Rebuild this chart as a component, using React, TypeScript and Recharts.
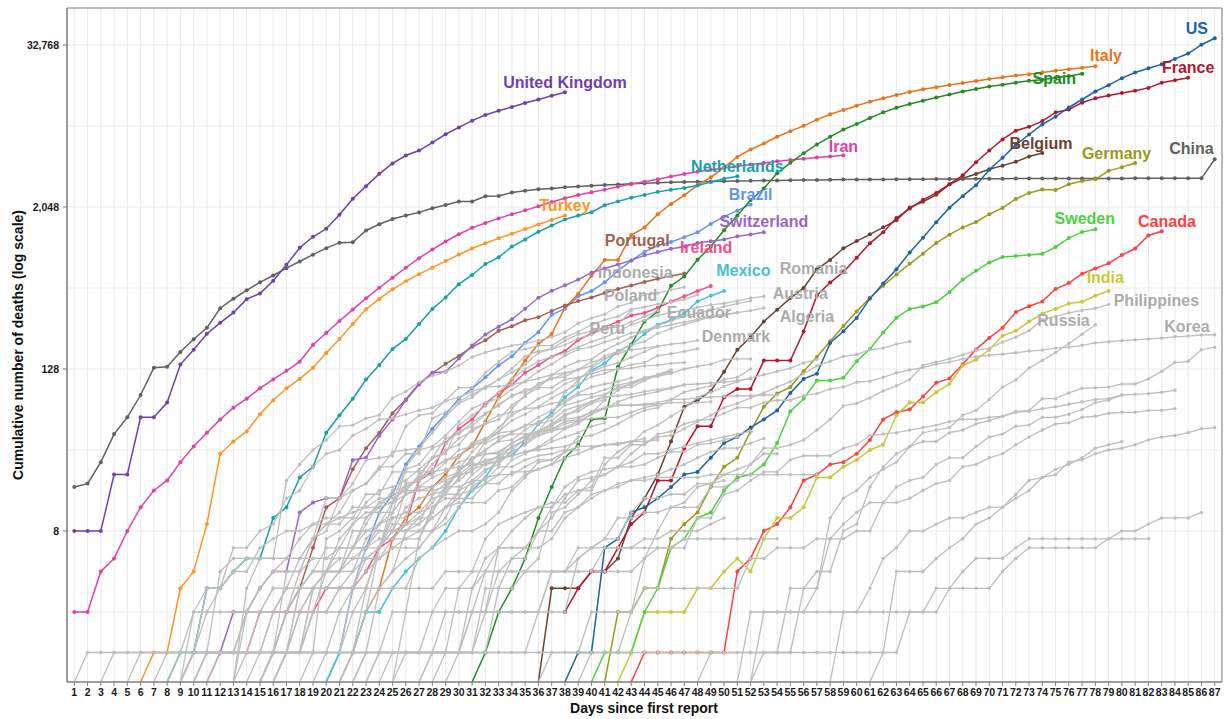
import React from 'react';
import { LineChart, Line, XAxis, YAxis, CartesianGrid, ReferenceArea, ReferenceDot } from 'recharts';

// log axis: zeros are squished onto the bottom edge like ggplot's -Inf
const FLOOR = 0.6034;
const TOP = 61740;
const DAYS = Array.from({ length: 87 }, (_, i) => i + 1);
const Y_TICKS = [8, 128, 2048, 32768];
const Y_GRID = [2, 8, 32, 128, 512, 2048, 8192, 32768];
const GRAY = '#bebebe';
const FONT = '"Liberation Sans", Arial, Helvetica, sans-serif';

// ---- highlighted countries (cumulative deaths, first entry = start day) ----
const china = [17,18,26,42,56,82,131,133,171,213,259,362,426,492,564,634,719,806,906,1013,1113,1118,1371,1523,1666,1770,1868,2007,2122,2247,2251,2458,2469,2629,2708,2770,2814,2872,2914,2947,2983,3015,3044,3072,3100,3123,3139,3161,3172,3180,3193,3203,3217,3230,3241,3249,3253,3259,3274,3274,3281,3285,3291,3296,3299,3304,3308,3309,3316,3322,3326,3330,3333,3335,3335,3337,3339,3340,3343,3343,3345,3345,3346,3346,3346,3346,4636];
const us = [0,1,1,6,7,11,12,14,17,21,22,28,36,40,47,54,63,85,108,118,200,244,307,427,552,706,942,1209,1581,2026,2467,2978,3873,4757,5926,7087,8407,9619,11248,12895,14789,16478,18586,20463,22020,23529,25832,28326,32916,36773];
const italy = [0,1,2,3,7,10,12,17,21,29,34,52,79,107,148,197,233,366,463,631,827,827,1266,1441,1809,2158,2503,2978,3405,4032,4825,5476,6077,6820,7503,8215,9134,10023,10779,11591,12428,13155,13915,14681,15362,15887,16523,17127,17669,18279,18849,19468,19899,20465,21067,21645,22170,22745];
const spain = [0,1,2,3,5,10,17,28,35,54,55,133,195,289,342,533,623,830,1043,1375,1772,2311,2808,3647,4365,5138,5982,6803,7716,8464,9387,10348,11198,11947,12641,13341,14045,14792,15447,16081,16606,17209,17756,18056,18708,19315,20002];
const france = [2,3,4,4,6,9,11,19,19,33,48,48,79,91,91,148,148,148,243,450,562,674,860,1100,1331,1696,1995,2314,2606,3024,3523,4403,5387,6507,7560,8078,8911,10328,10869,12210,13197,13832,14393,14967,15729,17167,17920,18681];
const uk = [8,8,8,21,21,56,56,72,138,178,234,282,336,423,466,580,761,1021,1231,1411,1793,2357,2926,3611,4320,4943,5385,6171,7111,7993,8974,9892,10629,11347,12129,12894,13759,14607];
const iran = [2,2,4,5,8,12,16,19,26,34,43,54,66,77,92,107,124,145,194,237,291,354,429,514,611,724,853,988,1135,1284,1433,1556,1685,1812,1934,2077,2234,2378,2517,2640,2757,2898,3036,3160,3294,3452,3603,3739,3872,3993,4110,4232,4357,4474,4585,4683,4777,4869,4958];
const netherlands = [0,1,1,3,3,4,5,5,10,12,20,24,43,58,77,107,137,180,214,277,357,435,547,640,772,865,1040,1175,1341,1490,1656,1771,1874,2108,2255,2403,2520,2653,2747,2833,2955,3145,3327,3471];
const turkey = [0,1,1,3,4,9,30,37,44,59,75,92,108,131,168,214,277,356,425,501,574,649,725,812,908,1006,1101,1198,1296,1403,1518,1643,1769];
const brazil = [0,1,3,6,11,15,25,34,46,59,77,92,111,136,159,201,240,324,359,445,486,564,686,819,950,1057,1124,1223,1328,1532,1736,1924,2141];
const switzerland = [0,1,1,1,2,2,3,4,4,11,13,14,14,27,28,41,54,75,98,120,122,153,191,231,264,300,359,433,488,536,591,666,715,765,821,895,948,1002,1036,1106,1138,1174,1239,1281,1327];
const portugal = [0,1,2,3,6,12,14,23,33,43,60,76,100,119,140,160,187,209,246,266,295,311,345,380,409,435,470,504,535,567,599,629,657];
const ireland = [0,1,1,1,2,2,2,2,2,3,3,3,4,6,7,9,19,22,36,46,54,71,85,98,120,137,158,174,210,235,263,287,320,334,365,406,444,486,530];
const mexico = [0,1,1,2,2,3,4,5,6,8,12,16,20,28,29,37,50,60,79,94,125,141,174,194,233,273,296,332,406,449,486];
const belgium = [0,3,3,3,4,4,5,10,14,21,37,67,75,88,122,178,220,289,353,431,513,705,828,1011,1143,1283,1447,1632,2035,2240,2523,3019,3346,3600,3903,4157,4440,4857,5163];
const germany = [0,2,2,3,3,7,9,11,17,24,28,44,67,84,94,123,157,206,267,342,433,533,645,775,920,1107,1275,1444,1584,1810,2016,2349,2607,2767,2736,3022,3194,3294,3804,4052,4352];
const sweden = [0,1,1,1,2,3,6,7,10,11,16,20,21,25,36,62,77,105,105,110,146,180,239,308,358,373,401,477,591,687,793,870,887,899,919,1033,1203,1333,1400];
const canada = [0,1,1,1,1,1,1,1,4,5,8,9,12,19,21,25,26,30,38,54,61,64,80,101,109,139,179,218,259,339,375,407,503,557,654,714,781,899,1006,1257,1354];
const india = [0,1,2,2,2,2,3,3,4,5,4,7,10,10,12,20,20,24,27,32,35,58,72,72,86,99,136,150,178,226,246,288,331,358,393,405,448,486];

// ---- other countries (grey) ----
const afghanistan = [0,1,1,1,2,2,4,4,4,4,4,4,6,6,7,7,11,14,14,15,15,18,18,21,23,25,30,30];
const algeria = [0,1,2,3,4,4,4,7,9,11,15,17,17,19,21,25,26,29,31,35,44,58,86,105,130,152,173,193,205,235,256,275,293,313,326,336,348,364];
const argentina = [0,1,1,1,1,1,2,2,2,2,2,2,3,3,4,4,4,6,8,9,13,18,19,23,27,28,36,39,43,44,48,56,63,72,82,83,90,97,102,111,115,123];
const australia = [0,1,1,1,2,2,2,2,3,3,3,3,3,3,3,3,5,5,6,6,6,7,7,7,8,8,13,13,14,16,18,19,24,25,28,30,35,40,45,50,51,56,57,60,61,61,63,63,65];
const austria = [0,1,1,1,1,1,3,3,6,8,16,21,28,30,49,58,68,86,108,128,146,158,168,186,204,220,243,273,295,319,337,350,368,384,393,410,431,443];
const bahrain = [0,1,1,1,1,1,1,1,1,1,3,4,4,4,4,4,4,4,4,4,4,4,4,5,6,6,7,7,7,7,7,7,7,7];
const bangladesh = [0,1,1,1,2,3,4,5,5,5,5,5,5,5,5,6,6,6,8,9,12,17,20,21,27,30,34,39,46,50,60,75];
const bolivia = [0,1,1,3,3,4,6,6,9,10,11,11,14,15,20,24,27,28,29,31,32,33,34,37];
const bosnia = [0,1,1,2,2,3,3,4,5,6,7,8,10,12,13,13,13,16,17,21,23,25,28,30,33,35,36,37,39];
const burkina = [0,1,1,1,1,2,3,4,4,4,7,9,9,12,12,14,14,16,16,16,17,17,19,19,24,24,27,29,30,32,32];
const chile = [0,1,1,2,3,3,4,5,6,8,12,16,18,22,27,34,37,43,48,57,65,73,82,92,94,105,116,126];
const colombia = [0,1,2,3,4,4,6,6,10,12,16,17,19,25,32,35,46,50,54,69,80,100,109,112,127,144,153,166,179];
const croatia = [0,1,1,1,1,1,1,3,3,5,6,6,6,6,7,10,12,15,16,18,19,20,21,23,25,28,31,33,33,36,39];
const cuba = [0,1,1,1,1,1,1,1,2,3,3,3,4,6,6,6,6,8,8,9,11,12,15,15,16,18,21,21,24,27,27,31];
const czechia = [0,1,3,6,9,9,9,11,16,23,31,39,44,53,59,67,78,88,99,112,119,129,138,143,161,166,173,181];
const denmark = [0,1,2,3,4,4,6,9,13,13,24,32,34,41,52,65,72,77,90,104,123,139,161,179,187,203,218,237,247,260,273,285,299,309,321,336];
const dominican = [0,1,2,2,2,3,3,3,6,10,10,20,28,39,42,51,60,68,82,86,98,108,118,126,135,160,173,177,183,189,196,200,209];
const ecuador = [0,2,2,2,3,5,7,14,14,18,27,28,29,48,58,60,75,93,93,120,145,172,180,191,191,220,242,272,297,315,355,369,388,403,421,456];
const egypt = [0,1,1,1,1,1,2,2,2,4,6,6,6,8,10,14,19,20,21,24,30,36,40,41,46,52,58,66,71,78,85,94,103,118,135,146,159,164,178,183,196,205];
const estonia = [0,1,1,1,1,3,3,3,4,5,11,12,15,19,21,24,24,25,28,31,31,35,36,38,40];
const finland = [0,1,1,1,3,3,7,9,11,13,13,17,19,20,25,28,28,34,40,42,48,49,56,56,59,64,72,75,82];
const greece = [0,1,1,3,4,4,5,5,6,6,13,15,17,20,22,26,28,32,38,43,49,50,53,63,68,73,79,81,83,87,90,93,98,99,101,102,105,108];
const honduras = [0,1,1,1,1,7,8,10,15,15,22,22,22,22,23,24,25,25,26,31,35,41,46,46];
const hungary = [0,1,1,1,1,1,4,4,7,9,10,10,10,13,15,16,20,21,26,32,34,38,47,58,66,77,85,99,109,122,134,142,156,172,189];
const iceland = [0,1,1,1,1,1,1,1,1,2,2,2,2,2,2,2,2,2,2,2,2,4,4,4,4,6,6,6,7,7,8,8,8,9,10];
const indonesia = [0,1,1,4,5,5,5,5,19,25,32,38,48,49,55,58,78,87,102,114,122,136,157,170,181,191,198,209,221,240,280,306,327,373,399,459,469,496,520];
const iraq = [0,2,2,3,4,4,6,7,8,8,9,10,10,11,12,12,13,17,20,23,27,29,36,36,40,42,42,44,50,54,56,61,65,69,69,70,72,76,76,78,79,80,81,81,82,82];
const israel = [0,1,1,1,1,3,5,5,8,12,15,16,16,25,31,36,44,49,57,65,79,86,95,103,110,116,123,130,142,151];
const japan = [0,1,1,1,1,1,1,1,1,1,1,1,1,1,2,4,4,5,6,6,6,6,6,6,6,6,10,10,15,16,19,22,22,27,29,29,29,33,35,41,42,43,45,47,49,52,54,54,56,57,62,63,77,77,85,92,93,94,99,99,108,123,143,146,178,186];
const korea = [0,1,2,2,6,8,10,12,13,13,16,17,28,28,35,35,42,44,50,53,54,60,66,66,72,75,75,81,84,91,94,102,104,111,120,126,131,139,144,152,158,162,165,169,174,177,183,186,192,200,204,208,211,214,217,222,225,229,230];
const lebanon = [0,1,1,2,3,3,3,3,3,3,3,4,4,4,4,4,5,6,8,8,11,12,14,16,17,19,19,20,20,20,20,21,21,21,21,21,21,21,21,21];
const luxembourg = [0,1,1,1,1,1,2,4,4,8,8,8,8,8,9,15,18,21,22,30,31,36,41,44,46,52,54,62,66,69,69,69,70,72,72,72,73];
const malaysia = [0,2,2,2,2,3,10,14,16,20,23,26,34,37,37,43,45,50,53,57,61,62,65,67,70,73,76,77,82,83,84,86,89];
const moldova = [0,1,1,1,1,1,1,1,1,2,2,2,2,2,6,8,12,14,15,16,19,23,25,27,29,31,33,37,40,43,48,51];
const morocco = [0,1,1,1,1,1,1,2,2,2,3,3,4,5,5,6,11,23,25,33,36,44,48,59,70,80,90,93,93,107,111,118,126,127,130,135,137,141,143];
const macedonia = [0,1,1,2,3,3,4,7,9,10,11,12,12,17,20,22,23,24,26,30,30,32,34,36,38,40,42,44];
const nigeria = [0,1,1,1,1,1,1,1,2,2,2,2,2,2,2,5,6,7,10,10,11,11,12,13,17,18,19];
const norway = [0,1,1,3,3,3,3,3,6,7,7,7,7,12,14,14,19,23,25,32,39,44,50,59,62,71,76,89,101,108,113,119,128,134,139,150,152,152];
const pakistan = [0,1,2,3,3,3,5,6,7,8,8,9,11,16,20,26,27,31,40,41,45,50,57,63,66,76,86,91,96,107,111,128];
const panama = [0,1,1,1,1,1,1,1,1,1,3,3,6,6,8,9,14,16,24,30,32,41,46,54,55,59,63,66,74,79,87,94,95,98,103,109,116,120,126];
const peru = [0,3,5,5,5,7,9,9,11,16,18,24,24,30,30,55,61,73,83,92,107,121,138,169,181,193,216,230,254,274,348];
const philippines = [0,1,1,1,1,1,1,1,1,1,1,1,1,1,1,1,1,1,1,1,1,1,1,1,1,1,1,1,1,1,1,1,1,1,1,1,1,1,1,1,2,5,8,12,12,12,17,17,19,25,33,33,35,38,45,54,68,71,78,88,96,107,136,144,152,163,177,182,203,221,247,297,315,335,349,362,387];
const poland = [0,1,2,3,3,4,5,5,5,5,5,7,8,14,16,18,23,31,32,33,43,57,71,79,94,107,129,159,174,181,208,232,245,257,263,286,314,347];
const romania = [0,2,7,11,17,23,26,37,43,65,82,92,115,133,146,151,176,197,220,246,270,291,316,333,351,372,392,411];
const russia = [0,1,1,1,1,1,1,3,3,4,4,8,9,17,24,30,34,43,45,47,58,63,76,94,106,130,148,170,198,232,273];
const saudi = [0,1,3,4,8,8,8,10,16,21,25,29,34,38,41,44,47,52,59,65,73,79,83,87,92,97];
const serbia = [0,1,2,3,3,3,4,7,9,13,16,17,19,23,28,31,39,44,51,58,61,65,66,71,74,85,94,99,103,110];
const singapore = [0,2,2,2,2,2,2,2,2,3,3,3,3,4,5,6,6,6,6,6,6,7,8,8,9,10,10,10,11];
const slovenia = [0,1,1,1,1,1,1,2,4,5,5,6,9,11,11,11,15,16,17,20,22,28,30,30,36,40,43,45,50,53,55,56,56,61,66,69];
const srilanka = [0,1,1,2,2,3,3,4,5,5,5,6,7,7,7,7,7,7,7,7,7,7];
const thailand = [0,1,1,1,1,1,1,1,1,1,1,1,1,1,1,1,1,1,1,1,1,1,1,1,4,4,4,5,6,7,9,10,12,14,16,20,21,26,27,30,32,33,35,38,40,41,43,46,47];
const tunisia = [0,1,1,1,3,3,3,4,5,6,8,8,10,10,12,14,14,18,18,22,22,23,25,31,34,34,35,35,37,37,38];
const uae = [0,2,2,2,2,2,2,2,2,2,3,5,6,8,8,9,10,10,11,12,12,15,19,20,23,25,28,33,35,37];
const ukraine = [0,1,1,1,2,2,3,3,3,3,3,3,3,5,5,7,9,10,13,17,22,27,32,37,38,45,52,57,69,73,79,83,94,98,108,116,125];

const COLORS: Record<string, string> = {
  US: '#1b63a6', Italy: '#e8731a', Spain: '#228b22', France: '#b2182b',
  'United Kingdom': '#6e3faf', China: '#606060', Iran: '#e040a8',
  Netherlands: '#17a0a8', Turkey: '#ff9526', Brazil: '#6495ed',
  Switzerland: '#9966cc', Portugal: '#a65f4f', Ireland: '#f0508c',
  Mexico: '#46bfdc', Belgium: '#6b4232', Germany: '#999a20',
  Sweden: '#50d040', Canada: '#ff4040', India: '#c8c83c',
};

const SERIES = [
  { name: 'China', start: 1, deaths: china },
  { name: 'US', start: 38, deaths: us },
  { name: 'Italy', start: 21, deaths: italy },
  { name: 'Spain', start: 31, deaths: spain },
  { name: 'France', start: 38, deaths: france },
  { name: 'United Kingdom', start: 1, deaths: uk },
  { name: 'Iran', start: 1, deaths: iran },
  { name: 'Netherlands', start: 8, deaths: netherlands },
  { name: 'Turkey', start: 6, deaths: turkey },
  { name: 'Brazil', start: 20, deaths: brazil },
  { name: 'Switzerland', start: 9, deaths: switzerland },
  { name: 'Portugal', start: 15, deaths: portugal },
  { name: 'Ireland', start: 11, deaths: ireland },
  { name: 'Mexico', start: 20, deaths: mexico },
  { name: 'Belgium', start: 36, deaths: belgium },
  { name: 'Germany', start: 41, deaths: germany },
  { name: 'Sweden', start: 40, deaths: sweden },
  { name: 'Canada', start: 43, deaths: canada },
  { name: 'India', start: 42, deaths: india },
  { name: 'Afghanistan', start: 27, deaths: afghanistan },
  { name: 'Algeria', start: 16, deaths: algeria },
  { name: 'Argentina', start: 5, deaths: argentina },
  { name: 'Australia', start: 36, deaths: australia },
  { name: 'Austria', start: 16, deaths: austria },
  { name: 'Bahrain', start: 21, deaths: bahrain },
  { name: 'Bangladesh', start: 10, deaths: bangladesh },
  { name: 'Bolivia', start: 16, deaths: bolivia },
  { name: 'Bosnia and Herzegovina', start: 16, deaths: bosnia },
  { name: 'Burkina Faso', start: 9, deaths: burkina },
  { name: 'Chile', start: 19, deaths: chile },
  { name: 'Colombia', start: 15, deaths: colombia },
  { name: 'Croatia', start: 23, deaths: croatia },
  { name: 'Cuba', start: 7, deaths: cuba },
  { name: 'Czechia', start: 21, deaths: czechia },
  { name: 'Denmark', start: 16, deaths: denmark },
  { name: 'Dominican Republic', start: 16, deaths: dominican },
  { name: 'Ecuador', start: 13, deaths: ecuador },
  { name: 'Egypt', start: 23, deaths: egypt },
  { name: 'Estonia', start: 27, deaths: estonia },
  { name: 'Finland', start: 52, deaths: finland },
  { name: 'Greece', start: 15, deaths: greece },
  { name: 'Honduras', start: 15, deaths: honduras },
  { name: 'Hungary', start: 11, deaths: hungary },
  { name: 'Iceland', start: 16, deaths: iceland },
  { name: 'Indonesia', start: 9, deaths: indonesia },
  { name: 'Iraq', start: 9, deaths: iraq },
  { name: 'Israel', start: 28, deaths: israel },
  { name: 'Japan', start: 22, deaths: japan },
  { name: 'Korea, South', start: 29, deaths: korea },
  { name: 'Lebanon', start: 18, deaths: lebanon },
  { name: 'Luxembourg', start: 13, deaths: luxembourg },
  { name: 'Malaysia', start: 52, deaths: malaysia },
  { name: 'Moldova', start: 10, deaths: moldova },
  { name: 'Morocco', start: 9, deaths: morocco },
  { name: 'North Macedonia', start: 25, deaths: macedonia },
  { name: 'Nigeria', start: 24, deaths: nigeria },
  { name: 'Norway', start: 15, deaths: norway },
  { name: 'Pakistan', start: 21, deaths: pakistan },
  { name: 'Panama', start: 1, deaths: panama },
  { name: 'Peru', start: 13, deaths: peru },
  { name: 'Philippines', start: 3, deaths: philippines },
  { name: 'Poland', start: 8, deaths: poland },
  { name: 'Romania', start: 25, deaths: romania },
  { name: 'Russia', start: 48, deaths: russia },
  { name: 'Saudi Arabia', start: 22, deaths: saudi },
  { name: 'Serbia', start: 14, deaths: serbia },
  { name: 'Singapore', start: 58, deaths: singapore },
  { name: 'Slovenia', start: 10, deaths: slovenia },
  { name: 'Sri Lanka', start: 61, deaths: srilanka },
  { name: 'Thailand', start: 39, deaths: thailand },
  { name: 'Tunisia', start: 15, deaths: tunisia },
  { name: 'United Arab Emirates', start: 51, deaths: uae },
  { name: 'Ukraine', start: 10, deaths: ukraine },
]
  .map((s) => ({ ...s, key: s.name.replace(/\W/g, ''), color: COLORS[s.name] || GRAY }))
  // highlighted series go underneath, the grey crowd is drawn over them
  .sort((a, b) => {
    const ga = a.color === GRAY ? 1 : 0;
    const gb = b.color === GRAY ? 1 : 0;
    return ga !== gb ? ga - gb : a.name.localeCompare(b.name);
  });

// label anchor (text centre) in data units
const LABELS = [
  { text: 'US', day: 85.65, value: 43840, color: COLORS.US },
  { text: 'Italy', day: 78.8, value: 27600, color: COLORS.Italy },
  { text: 'France', day: 85.0, value: 22290, color: COLORS.France },
  { text: 'Spain', day: 74.9, value: 18630, color: COLORS.Spain },
  { text: 'United Kingdom', day: 38.0, value: 17390, color: COLORS['United Kingdom'] },
  { text: 'Iran', day: 59.0, value: 5816, color: COLORS.Iran },
  { text: 'Belgium', day: 73.9, value: 6122, color: COLORS.Belgium },
  { text: 'Germany', day: 79.6, value: 5160, color: COLORS.Germany },
  { text: 'China', day: 85.25, value: 5573, color: COLORS.China },
  { text: 'Netherlands', day: 51.0, value: 4130, color: COLORS.Netherlands },
  { text: 'Brazil', day: 52.0, value: 2558, color: COLORS.Brazil },
  { text: 'Turkey', day: 38.0, value: 2101, color: COLORS.Turkey },
  { text: 'Switzerland', day: 53.0, value: 1585, color: COLORS.Switzerland },
  { text: 'Sweden', day: 77.2, value: 1668, color: COLORS.Sweden },
  { text: 'Canada', day: 83.4, value: 1611, color: COLORS.Canada },
  { text: 'Portugal', day: 43.45, value: 1164, color: COLORS.Portugal },
  { text: 'Ireland', day: 48.65, value: 1016, color: COLORS.Ireland },
  { text: 'Indonesia', day: 43.3, value: 662, color: '#ababab' },
  { text: 'Mexico', day: 51.45, value: 685, color: COLORS.Mexico },
  { text: 'Romania', day: 56.75, value: 715, color: '#ababab' },
  { text: 'Poland', day: 42.95, value: 454, color: '#ababab' },
  { text: 'Austria', day: 55.75, value: 470, color: '#ababab' },
  { text: 'India', day: 78.75, value: 608, color: COLORS.India },
  { text: 'Philippines', day: 82.6, value: 410, color: '#ababab' },
  { text: 'Ecuador', day: 48.1, value: 334, color: '#ababab' },
  { text: 'Algeria', day: 56.25, value: 317, color: '#ababab' },
  { text: 'Peru', day: 41.2, value: 258, color: '#ababab' },
  { text: 'Denmark', day: 50.9, value: 225, color: '#ababab' },
  { text: 'Russia', day: 75.6, value: 296, color: '#ababab' },
  { text: 'Korea', day: 84.9, value: 267, color: '#ababab' },
];

const rows = DAYS.map((day) => {
  const row: Record<string, number> = { day };
  SERIES.forEach((s) => {
    const i = day - s.start;
    if (i >= 0 && i < s.deaths.length) {
      const v = s.deaths[i];
      row[s.key] = v > 0 ? v : FLOOR;
    }
  });
  return row;
});

const makeDot = (color: string, r: number) => (props: any) => {
  const { cx, cy, value, index } = props;
  if (cx == null || cy == null || value == null || value <= FLOOR) return <g key={index} />;
  return <circle key={index} cx={cx} cy={cy} r={r} fill={color} stroke="none" />;
};

const App: React.FC = () => {
  return (
    <div style={{ position: 'absolute', left: 0, top: 0, width: 1224, height: 719, background: '#fff' }}>
      <LineChart width={1224} height={719} data={rows} margin={{ top: 8, right: 2, left: 0, bottom: 0 }}>
        <CartesianGrid stroke="#ebebeb" strokeWidth={1.1} horizontalValues={Y_GRID} vertical={true} />
        <XAxis
          dataKey="day"
          type="number"
          domain={[0.45, 87.55]}
          allowDataOverflow
          ticks={DAYS}
          interval={0}
          height={37}
          tickSize={4}
          tickMargin={3}
          axisLine={{ stroke: '#7f7f7f' }}
          tickLine={{ stroke: '#7f7f7f' }}
          tick={{ fontSize: 10.5, fontWeight: 700, fill: '#1a1a1a', fontFamily: FONT }}
        />
        <YAxis
          scale="log"
          domain={[FLOOR, TOP]}
          allowDataOverflow
          ticks={Y_TICKS}
          width={67}
          tickSize={4}
          tickMargin={4}
          axisLine={{ stroke: '#7f7f7f' }}
          tickLine={{ stroke: '#7f7f7f' }}
          tickFormatter={(v: number) => v.toLocaleString('en-US')}
          tick={{ fontSize: 10.5, fontWeight: 700, fill: '#1a1a1a', fontFamily: FONT }}
        />
        {SERIES.map((s) => {
          const hi = s.color !== GRAY;
          return (
            <Line
              key={s.key}
              dataKey={s.key}
              type="linear"
              stroke={s.color}
              strokeWidth={hi ? 1.5 : 1.3}
              dot={makeDot(s.color, hi ? 2 : 1.7)}
              activeDot={false}
              isAnimationActive={false}
              connectNulls={false}
            />
          );
        })}
        <ReferenceArea x1={0.45} x2={87.55} y1={FLOOR} y2={TOP} fill="none" stroke="#7f7f7f" strokeWidth={1} ifOverflow="visible" />
        {LABELS.map((l) => (
          <ReferenceDot
            key={l.text}
            x={l.day}
            y={l.value}
            r={0}
            ifOverflow="visible"
            shape={(p: any) => (
              <text
                x={p.cx}
                y={p.cy}
                textAnchor="middle"
                dominantBaseline="central"
                fill={l.color}
                fontSize={16}
                fontWeight={700}
                fontFamily={FONT}
              >
                {l.text}
              </text>
            )}
          />
        ))}
      </LineChart>
      <div
        style={{
          position: 'absolute', left: 644, top: 708, transform: 'translate(-50%, -50%)',
          font: `bold 14px ${FONT}`, color: '#111', whiteSpace: 'nowrap',
        }}
      >
        Days since first report
      </div>
      <div
        style={{
          position: 'absolute', left: 18, top: 345, transform: 'translate(-50%, -50%) rotate(-90deg)',
          font: `bold 14px ${FONT}`, color: '#111', whiteSpace: 'nowrap',
        }}
      >
        Cumulative number of deaths (log scale)
      </div>
    </div>
  );
};

export default App;
